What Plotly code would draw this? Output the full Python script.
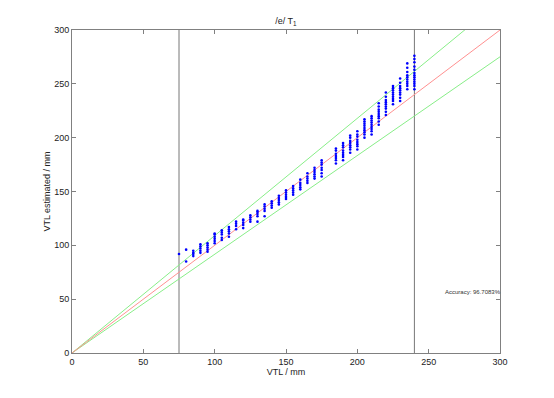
import plotly.graph_objects as go

# Actual VTL columns (mm) and estimated VTL values per column (mm)
vtl_actual = [75, 80, 85, 90, 95, 100, 105, 110, 115, 120, 125, 130, 135, 140,
              145, 150, 155, 160, 165, 170, 175, 185, 190, 195, 200, 205, 210,
              215, 220, 225, 230, 235, 240]
vtl_estimated = [
    [92],
    [96, 85],
    [90, 92, 93, 95],
    [93, 95, 97, 99, 101],
    [94, 96, 98, 100, 102],
    [102, 104, 106, 108, 110, 111],
    [105, 107, 110, 112, 114],
    [108, 111, 113, 115, 117],
    [115, 118, 120, 122],
    [116, 119, 121, 123, 124],
    [122, 124, 126, 128],
    [122, 127, 129, 131, 132],
    [127, 132, 134, 136, 138],
    [135, 137, 139, 141],
    [138, 140, 142, 144, 146],
    [143, 145, 147, 149, 151],
    [147, 149, 151, 153, 155],
    [152, 154, 156, 158, 161],
    [158, 160, 162, 164, 167],
    [162, 164, 166, 168, 170, 172],
    [164, 167, 170, 172, 175, 177, 179],
    [176, 179, 181, 183, 185, 188, 190],
    [179, 182, 184, 186, 188, 191, 193, 195],
    [186, 189, 191, 193, 195, 197, 200, 202],
    [189, 192, 194, 196, 198, 201, 203, 206],
    [200, 203, 205, 207, 209, 211, 213, 215, 217],
    [203, 206, 208, 210, 212, 214, 216, 218, 220],
    [212, 215, 218, 220, 222, 224, 226, 229, 232],
    [221, 224, 227, 229, 231, 233, 235, 238, 242],
    [231, 234, 236, 238, 240, 242, 244, 246, 248],
    [234, 237, 240, 242, 244, 246, 248, 251, 255],
    [245, 248, 250, 252, 254, 256, 258, 261, 265, 269],
    [245, 248, 250, 252, 254, 256, 258, 260, 263, 266, 270, 273, 276],
]
range_limits = [75, 240]
line_x = [0, 300]
upper_slope = 1.09
lower_slope = 0.917
accuracy_text = "Accuracy: 96.7083%"
ticks = [0, 50, 100, 150, 200, 250, 300]

xs, ys = [], []
for a, col in zip(vtl_actual, vtl_estimated):
    for v in col:
        xs.append(a)
        ys.append(v)

fig = go.Figure()

for lim in range_limits:
    fig.add_trace(go.Scatter(x=[lim, lim], y=[0, 300], mode="lines",
                             line=dict(color="#777777", width=1), hoverinfo="skip"))

fig.add_trace(go.Scatter(x=line_x, y=[v * upper_slope for v in line_x], mode="lines",
                         line=dict(color="#88ee88", width=1)))
fig.add_trace(go.Scatter(x=line_x, y=[v * lower_slope for v in line_x], mode="lines",
                         line=dict(color="#88ee88", width=1)))
fig.add_trace(go.Scatter(x=line_x, y=line_x, mode="lines",
                         line=dict(color="#ff9090", width=1)))

fig.add_trace(go.Scatter(x=xs, y=ys, mode="markers",
                         marker=dict(color="#0000ff", size=2.6, line=dict(width=0))))

font_fam = "Liberation Sans, Arial"
axis_common = dict(
    range=[0, 300], tickvals=ticks, ticks="inside", ticklen=4,
    tickcolor="#808080", showline=True, linecolor="#808080", linewidth=1,
    mirror="ticks", showgrid=False, zeroline=False,
    tickfont=dict(family=font_fam, size=9, color="#222222"),
)

fig.update_layout(
    width=546, height=390,
    margin=dict(l=64, r=54, t=22, b=45),
    paper_bgcolor="white", plot_bgcolor="white",
    showlegend=False,
    title=dict(text="/e/ T<sub>1</sub>", x=0.509, xanchor="center", y=0.968, yanchor="middle",
               font=dict(family=font_fam, size=9, color="#222222")),
    xaxis=dict(axis_common, title=dict(text="VTL / mm", standoff=2,
               font=dict(family=font_fam, size=9, color="#222222"))),
    yaxis=dict(axis_common, title=dict(text="VTL estimated / mm", standoff=2,
               font=dict(family=font_fam, size=9, color="#222222"))),
    annotations=[dict(x=260, y=57, xref="x", yref="y", text=accuracy_text,
                      showarrow=False, xanchor="left", yanchor="middle",
                      font=dict(family=font_fam, size=6, color="#333333"))],
)

fig.write_html("out.html")
